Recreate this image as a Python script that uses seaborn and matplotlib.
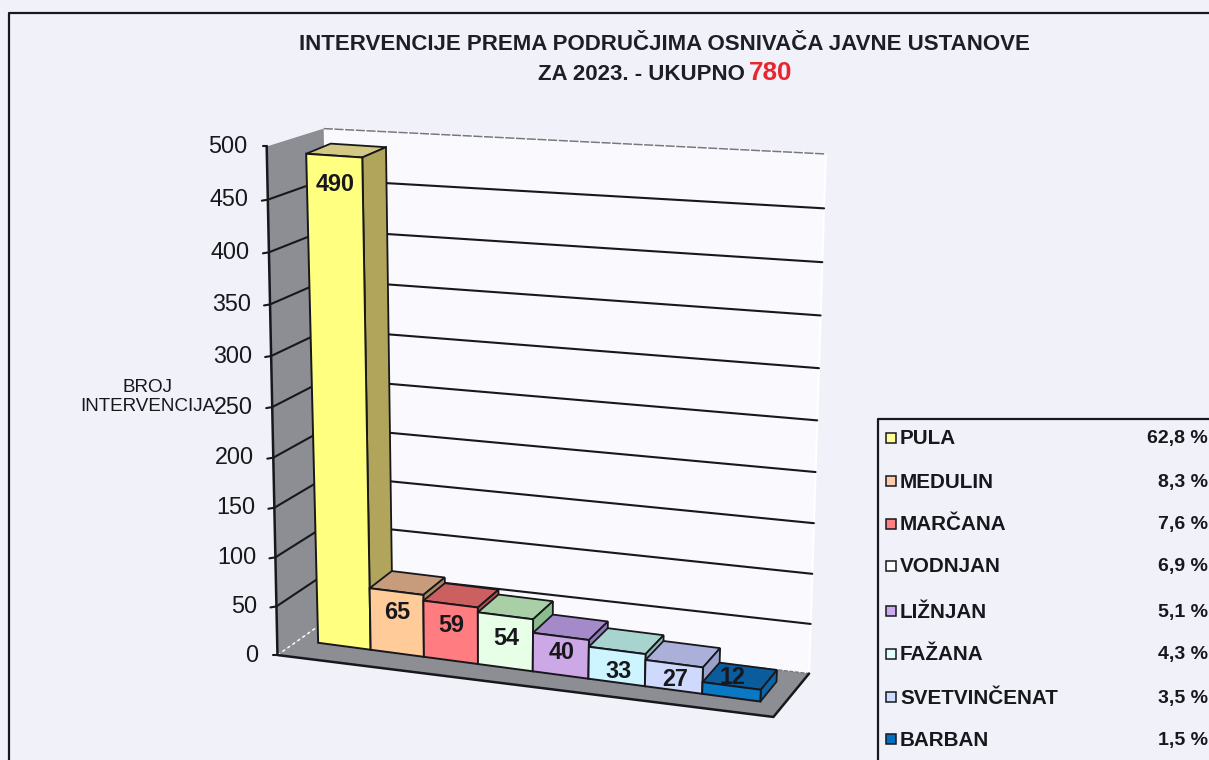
import numpy as np
import pandas as pd
import matplotlib
matplotlib.use("Agg")
import matplotlib.pyplot as plt
from matplotlib.patches import Rectangle
from matplotlib.transforms import Transform
import seaborn as sns

# ---------- data ----------
categories = ["PULA", "MEDULIN", "MARČANA", "VODNJAN", "LIŽNJAN", "FAŽANA", "SVETVINČENAT", "BARBAN"]
counts = [490, 65, 59, 54, 40, 33, 27, 12]
shares = ["62,8 %", "8,3 %", "7,6 %", "6,9 %", "5,1 %", "4,3 %", "3,5 %", "1,5 %"]
ticks = [0, 50, 100, 150, 200, 250, 300, 350, 400, 450, 500]
total = 780

# ---------- style ----------
front_colors = ["#FFFF80", "#FFCC99", "#FF7C80", "#E6FFE6", "#CCA9E6", "#CCF5FF", "#CFD9FB", "#0B78C4"]
top_colors = ["#D3C884", "#C79C7C", "#CC5F60", "#A9CFA6", "#A48AC8", "#A8D4D0", "#ABB0DA", "#0A5C9C"]
side_colors = ["#B0A55A", "#A88860", "#B05050", "#8DBB90", "#8F78B8", "#90B8B5", "#9AA0C8", "#0A66A8"]
swatch_colors = ["#FFFF99", "#FFCCAA", "#FF8080", "#FFFFFF", "#CCAAEE", "#DDFFFF", "#CCDDFF", "#0070C0"]
label_dy = [29, 21, 21, 23, 16, 21, 16, -8]
PAGE = "#F1F1FA"
WALL = "#FAFAFE"
GREY = "#8D8E94"
INK = "#17171C"
FONT = "Liberation Sans"


def fit_camera(pairs):
    """Projective camera (u, v, w) -> pixel, fitted to layout reference points."""
    A, b = [], []
    for (u, v, w), (x, y) in pairs:
        A.append([u, v, w, 1, 0, 0, 0, 0, -x * u, -x * v, -x * w]); b.append(x)
        A.append([0, 0, 0, 0, u, v, w, 1, -y * u, -y * v, -y * w]); b.append(y)
    p = np.linalg.lstsq(np.array(A, float), np.array(b, float), rcond=None)[0]
    return np.append(p, 1).reshape(3, 4)


def project(P, u, v, w):
    h = P @ np.array([u, v, w, 1.0])
    return h[0] / h[2], h[1] / h[2]


class Perspective(Transform):
    input_dims = output_dims = 2
    is_separable = False

    def __init__(self, P, w=0.0):
        super().__init__()
        self.P, self.w = P, w

    def transform_non_affine(self, values):
        xy = np.asarray(values, float)
        return np.array([project(self.P, x + 0.5, v, self.w) for x, v in xy])


# the box: u = 0..1 along the categories, w = 0..1 in depth
box = fit_camera([
    ((0, 0, 0), (279, 654)), ((0, 500, 0), (265, 147)), ((1, 0, 0), (773, 722)),
    ((0, 0, 0), (279, 654)), ((0, 500, 0), (265, 147)), ((0, 0, 0), (279, 654)), ((0, 500, 0), (265, 147)),
    ((0, 0, 1), (326, 622)), ((0, 500, 1), (329, 128)), ((1, 0, 1), (810, 670)),
    ((1, 500, 1), (826, 155)), ((1, 450, 1), (824, 208)), ((1, 50, 1), (810, 622)),
    ((0, 450, 0), (267, 199)), ((0, 250, 0), (272, 406)), ((0, 100, 0), (277, 556)),
])
# the bars: u = bar edge index, w = 0 front face, w = 1 back face
cam = fit_camera([
    ((0, 0, 0), (318, 643)), ((0, 490, 0), (307, 154)), ((1, 490, 0), (362, 157)),
    ((1, 0, 0), (370, 650)), ((1, 65, 0), (371, 588)), ((2, 65, 0), (423, 595)),
    ((2, 0, 0), (423, 656)), ((8, 0, 0), (760, 702)), ((8, 12, 0), (760, 690)),
    ((7, 12, 0), (703, 683)), ((7, 0, 0), (703, 693)), ((0, 490, 1), (330, 143)),
    ((1, 490, 1), (386, 148)), ((1, 65, 1), (393, 571)), ((2, 65, 1), (444, 578)),
    ((7, 12, 1), (720, 663)), ((8, 12, 1), (777, 669)),
])

sns.set_theme(style="white")
plt.rcParams["font.family"] = [FONT, "DejaVu Sans"]
fig = plt.figure(figsize=(12.09, 7.6), dpi=100, facecolor=PAGE)
ax = fig.add_axes([0, 0, 1, 1])

df = pd.DataFrame({"area": categories, "count": counts})
sns.barplot(data=df, x="area", y="count", hue="area", order=categories, hue_order=categories,
            palette=front_colors, width=1.0, dodge=False, legend=False, saturation=1,
            edgecolor=INK, linewidth=1.4, ax=ax)
fronts = list(ax.patches)

ax.set_xlim(0, 1209)
ax.set_ylim(760, 0)
ax.set_axis_off()


def poly(points, **kw):
    xs, ys = zip(*points)
    ax.fill(xs, ys, **kw)


# ---------- walls ----------
B = lambda u, v, w: project(box, u, v, w)
poly([B(0, 500, 1), B(1, 500, 1), B(1, 0, 1), B(0, 0, 1)], fc=WALL, ec="white", lw=1.5, zorder=1)
poly([B(0, 0, 0), B(0, 500, 0), B(0, 500, 1), B(0, 0, 1)], fc=GREY, ec="none", zorder=1.1)
poly([B(0, 0, 0), B(1, 0, 0), B(1, 0, 1), B(0, 0, 1)], fc=GREY, ec="none", zorder=1.1)

# grid lines: tick -> left wall -> back wall
for t in ticks[1:-1]:
    x0, y0 = B(0, t, 0)
    pts = [(x0 - 6, y0 + 1), (x0, y0), B(0, t, 1), B(1, t, 1)]
    ax.plot(*zip(*pts), color=INK, lw=1.5, zorder=1.3)
ax.plot(*zip(B(0, 500, 1), B(1, 500, 1)), color="#77777F", lw=1.1, ls=(0, (6, 1)), zorder=1.3)
ax.plot(*zip(B(0, 0, 0), B(0, 0, 1)), color="white", lw=1.1, ls=(0, (2, 2)), zorder=1.3)
ax.plot(*zip(B(0, 0, 1), B(1, 0, 1)), color="#77777F", lw=1, ls=(0, (3, 1)), zorder=1.3)
# axis edges
ax.plot(*zip(B(0, 500, 0), B(0, 0, 0), B(1, 0, 0), B(1, 0, 1)), color=INK, lw=1.8, zorder=1.4)
for t in (0, 500):
    x0, y0 = B(0, t, 0)
    ax.plot([x0 - 4, x0], [y0, y0], color=INK, lw=1.5, zorder=1.4)

# tick labels
for t in ticks:
    x0, y0 = B(0, t, 0)
    ax.text(x0 - 19, y0, str(t), ha="right", va="center", fontsize=16.8, color=INK, zorder=6)
ax.text(148, 397, "BROJ\nINTERVENCIJA", ha="center", va="center", fontsize=13.6, color=INK,
        linespacing=1.1, zorder=7)

# ---------- bars ----------
C = lambda u, v, w: project(cam, u, v, w)
for i, (val, rect) in enumerate(zip(counts, fronts)):
    poly([C(i, val, 0), C(i + 1, val, 0), C(i + 1, val, 1), C(i, val, 1)],
         fc=top_colors[i], ec=INK, lw=1.3, zorder=2 + i)
    poly([C(i + 1, 0, 0), C(i + 1, val, 0), C(i + 1, val, 1), C(i + 1, 0, 1)],
         fc=side_colors[i], ec=INK, lw=1.3, zorder=2 + i + 0.2)
    rect.set_transform(Perspective(cam) + ax.transData)
    rect.set_zorder(2 + i + 0.4)
    x, y = C(i + 0.5, val, 0)
    ax.text(x + 1, y + label_dy[i], str(val), ha="center", va="center", fontsize=16.8,
            fontweight="bold", color=INK, zorder=12)

# ---------- frame and titles ----------
ax.plot([8.5, 8.5, 1209], [760, 12.5, 12.5], color=INK, lw=1.6, zorder=0.5)
ax.text(664, 44, "INTERVENCIJE PREMA PODRUČJIMA OSNIVAČA JAVNE USTANOVE", ha="center", va="center",
        fontsize=16, fontweight="bold", color="#1E1E24")
ax.text(745, 74, "ZA 2023. - UKUPNO", ha="right", va="center", fontsize=16, fontweight="bold", color="#1E1E24")
ax.text(749, 72.5, str(total), ha="left", va="center", fontsize=18.8, fontweight="bold", color="#E8262E")

# ---------- legend ----------
ax.plot([1209, 877.5, 877.5], [418.5, 418.5, 760], color=INK, lw=1.6, zorder=5)
rows = [439, 482, 525, 567, 612, 655, 698, 740]
for name, share, swatch, y in zip(categories, shares, swatch_colors, rows):
    ax.add_patch(Rectangle((886, y - 6), 10, 10, fc=swatch, ec=INK, lw=1.1, zorder=6))
    ax.text(900, y, name, ha="left", va="center", fontsize=14.9, fontweight="bold", color=INK, zorder=6)
    ax.text(1208, y, share, ha="right", va="center", fontsize=14, fontweight="bold", color=INK, zorder=6)

fig.savefig("out.png", dpi=100, facecolor=PAGE)
